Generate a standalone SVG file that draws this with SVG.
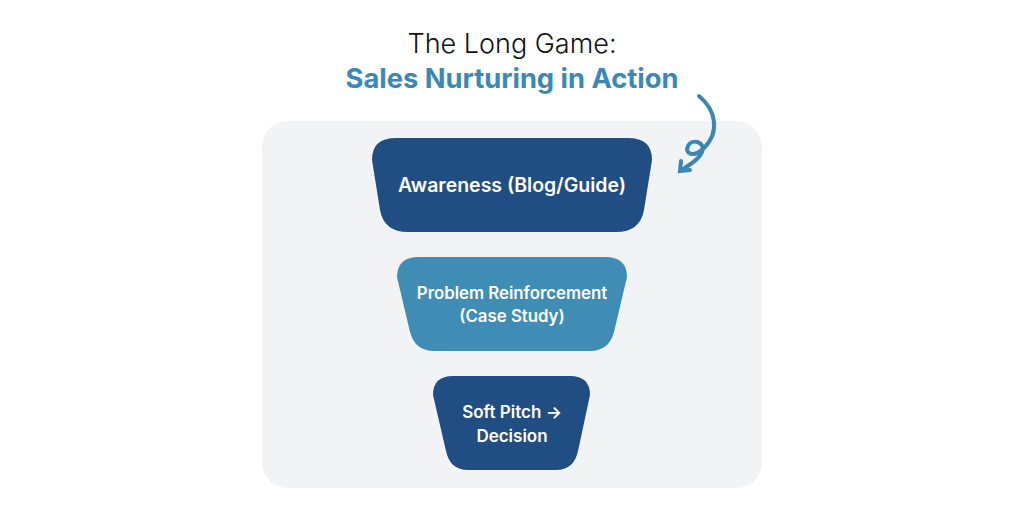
<svg xmlns="http://www.w3.org/2000/svg" width="1024" height="512" viewBox="0 0 1024 512">
<style>
.t{font-family:Inter,"Open Sans",sans-serif;fill:#fff;font-weight:600;text-anchor:middle}
.dark{fill:#214e82}.light{fill:#3f8db5}
</style>
<rect width="1024" height="512" fill="#fff"/>
<rect x="262" y="121" width="500" height="367" rx="26" fill="#f2f3f5"/>
<text x="512" y="53" font-family="Inter,'Open Sans',sans-serif" font-size="27" font-weight="300" fill="#111" text-anchor="middle">The Long Game:</text>
<text x="512" y="88" font-family="Inter,'Open Sans',sans-serif" font-size="27.3" font-weight="700" fill="#3a88b5" text-anchor="middle">Sales Nurturing in Action</text>
<g id="swirl" fill="none" stroke="#3a86b5" stroke-width="4" stroke-linecap="round">
<path d="M699 96 C716 110 720 132 704 148 C694 158 684 154 688 146 C692 138 706 142 702 152 C699 160 690 164 682 170"/>
<path d="M681 161 L680 171 L690 170"/>
</g>
<g id="connectors"></g>
<g id="n1"><path class="dark" d="M396 138 H628 Q652 138 652 160 L644 210 Q640 232 616 232 H408 Q384 232 380 210 L372 160 Q372 138 396 138 Z"/>
<text class="t" x="512" y="192" font-size="19.5">Awareness (Blog/Guide)</text></g>
<g id="n2"><path class="light" d="M419 257 H605 Q627 257 627 277 L614 332 Q609 351 590 351 H434 Q415 351 410 332 L397 277 Q397 257 419 257 Z"/>
<text class="t" x="512" y="299" font-size="16.8">Problem Reinforcement</text>
<text class="t" x="512" y="322" font-size="16.8">(Case Study)</text></g>
<g id="n3"><path class="dark" d="M453 376 H570 Q590 376 590 395 L578 451 Q574 470 556 470 H468 Q450 470 446 451 L433 395 Q433 376 453 376 Z"/>
<text class="t" x="512" y="418" font-size="17">Soft Pitch →</text>
<text class="t" x="512" y="442" font-size="17">Decision</text></g>
</svg>
